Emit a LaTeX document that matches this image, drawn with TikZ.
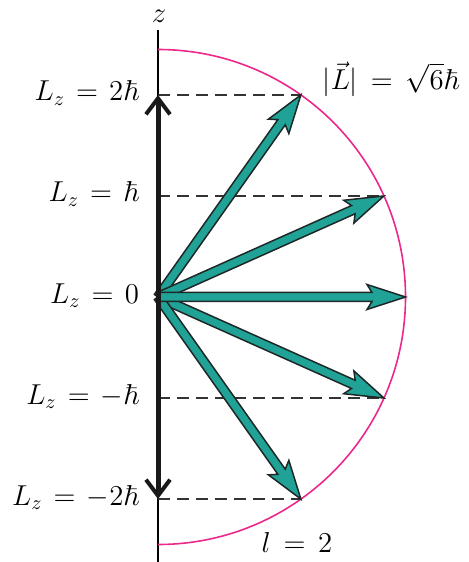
\documentclass[tikz,border=0pt]{standalone}
\usepackage{amsmath,amssymb}
\usetikzlibrary{arrows.meta,positioning}
\definecolor{vecteal}{RGB}{32,163,150}
\definecolor{vecedge}{RGB}{30,40,40}
\definecolor{shellpink}{RGB}{236,40,140}

\begin{document}
\begin{tikzpicture}[x=0.5pt, y=0.5pt, font=\Large,
  axis/.style={line width=0.7pt, black},
  shell/.style={line width=0.8pt, draw=shellpink},
  level/.style={line width=0.65pt, draw=black!80, dash pattern=on 6pt off 3.5pt},
  lzvec/.style={line width=2.5pt, black!90, {Straight Barb[length=8pt,width=12pt,line width=2pt]}-{Straight Barb[length=8pt,width=12pt,line width=2pt]}},
  lvec/.style={fill=vecteal, draw=vecedge, line width=0.75pt, line join=miter},
  lzlabel/.style={anchor=base east}]

  \useasboundingbox (-158,-265) rectangle (310,297);
  \coordinate (O) at (0,0);
  \coordinate (ztop) at (0,267);
  \coordinate (zbot) at (0,-265);
  \node (zlab) at (1,281) {$z$};
  \draw[axis] (zbot) -- (ztop);
  \draw[shell] (0,247.5) arc[start angle=90, end angle=-90, radius=247.5];

  \foreach \m/\txt in {2/2\hbar, 1/\hbar, 0/0, -1/-\hbar, -2/-2\hbar} {
    \coordinate (lev\m) at (0,{101*\m});
    \coordinate (tip\m) at ({101*sqrt(6-(\m)*(\m))},{101*\m});
    \node[lzlabel] (lab\m) at (-12,{101*\m-6}) {$L_z \mkern2mu=\mkern2mu \txt$};
  }

  \foreach \m in {2,1,-1,-2}
    \draw[level] (lev\m) -- (tip\m);

  \foreach \m in {2,1,-1,-2,0}
    \draw[lvec, rotate={asin((\m)/sqrt(6))}] (0,-4.5) -- (214,-4.5) -- (209,-12.5)
      -- (247.5,0) -- (209,12.5) -- (214,4.5) -- (0,4.5) -- cycle;

  \draw[lzvec] (lev-2) -- (lev2);

  \node (lmag) at (233,218) {$|\vec{L}| \,=\, \sqrt{6}\hbar$};
  \node (lval) at (139,-245) {$l \,=\, 2$};

\end{tikzpicture}
\end{document}
